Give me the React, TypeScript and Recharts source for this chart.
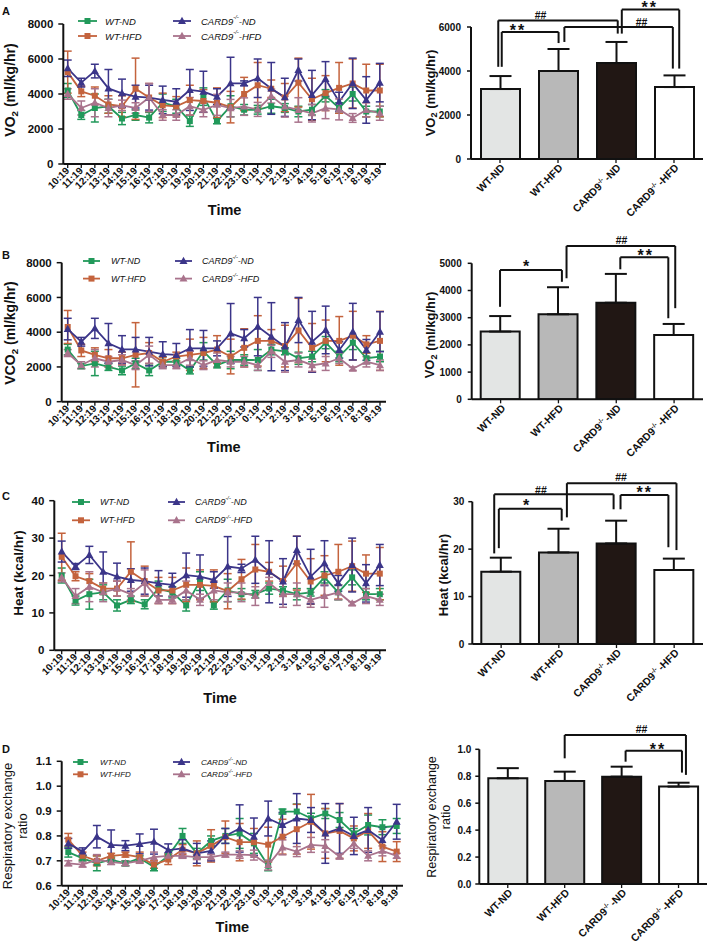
import React from 'react';
import {
  LineChart, Line, BarChart, Bar, Cell, XAxis, YAxis, ErrorBar, ReferenceLine, ReferenceDot,
} from 'recharts';

const FONT = '"Liberation Sans", Arial, sans-serif';
const INK = '#111';

const times = ['10:19', '11:19', '12:19', '13:19', '14:19', '15:19', '16:19', '17:19', '18:19', '19:19', '20:19', '21:19',
  '22:19', '23:19', '0:19', '1:19', '2:19', '3:19', '4:19', '5:19', '6:19', '7:19', '8:19', '9:19'];
const groupNames = ['WT-ND', 'WT-HFD', 'CARD9-/--ND', 'CARD9-/--HFD'];
const seriesColors = ['#21995a', '#c4633d', '#3b3589', '#a9738c'];
const barFills = ['#e3e5e4', '#b8b8b8', '#211714', '#ffffff'];

// ---- A: VO2 over time
const vo2WtNd = [4200, 2800, 3200, 3300, 2600, 2800, 2650, 3500, 3300, 2450, 3850, 2450, 3300, 3100, 3100, 3300, 3200, 3000, 3100, 3900, 3200, 4000, 3000, 3000];
const vo2WtNdErr = [400, 250, 800, 400, 350, 300, 300, 500, 400, 300, 500, 150, 600, 300, 250, 400, 250, 300, 300, 350, 300, 400, 300, 300];
const vo2WtHfd = [5250, 4150, 3900, 3400, 3300, 4300, 3800, 3350, 3300, 3650, 3600, 3500, 3250, 4000, 4500, 4300, 3800, 4650, 3700, 4050, 4350, 4600, 4200, 4200];
const vo2WtHfdErr = [1200, 300, 500, 500, 600, 1750, 800, 700, 550, 850, 650, 850, 900, 950, 1300, 500, 800, 1400, 1200, 1000, 1450, 1400, 1500, 1500];
const vo2KoNd = [5470, 4650, 5310, 4320, 4040, 3850, 3790, 3660, 3560, 4230, 4130, 3850, 4610, 4610, 4900, 4320, 3810, 5370, 3940, 4860, 3560, 4610, 3660, 4650];
const vo2KoNdErr = [470, 250, 390, 1080, 810, 650, 710, 790, 740, 1170, 1170, 450, 1490, 140, 1100, 1480, 1090, 630, 1410, 990, 540, 1440, 1330, 1100];
const vo2KoHfd = [4000, 3200, 3500, 3200, 3350, 3200, 3800, 2800, 2800, 3300, 3100, 3380, 3190, 3280, 3120, 3880, 3280, 3090, 2900, 3190, 3120, 2630, 3090, 2900];
const vo2KoHfdErr = [300, 400, 800, 500, 300, 300, 800, 300, 300, 500, 400, 600, 500, 500, 400, 400, 600, 700, 500, 600, 600, 250, 400, 400];

// ---- B: VCO2 over time
const vco2WtNd = [3000, 2050, 2200, 2000, 1800, 2200, 1800, 2300, 2300, 1800, 2900, 2100, 2400, 2400, 2400, 3000, 2900, 2500, 2600, 3400, 2600, 3400, 2500, 2600];
const vco2WtNdErr = [300, 150, 700, 200, 250, 300, 300, 300, 200, 200, 500, 150, 500, 300, 600, 300, 200, 350, 300, 350, 300, 400, 300, 300];
const vco2WtHfd = [4300, 2950, 2700, 2500, 2500, 2700, 2800, 2300, 2600, 2700, 2800, 3000, 2600, 3100, 3500, 3500, 3200, 4100, 3100, 3500, 3500, 3800, 3300, 3500];
const vco2WtHfdErr = [950, 350, 400, 500, 350, 1850, 600, 250, 250, 900, 900, 800, 1000, 1100, 1450, 650, 1200, 1850, 1400, 1200, 1400, 1400, 500, 1700];
const vco2KoNd = [4180, 3450, 4220, 3360, 3010, 3010, 2880, 2740, 2690, 3070, 3070, 3070, 3930, 3650, 4320, 3740, 3170, 4700, 3450, 4130, 2980, 4030, 2980, 4030];
const vco2KoNdErr = [620, 250, 580, 1140, 790, 690, 820, 710, 660, 1080, 1030, 430, 1720, 500, 1680, 1960, 1380, 1300, 1750, 1370, 470, 1630, 600, 1150];
const vco2KoHfd = [2800, 2100, 2500, 2300, 2400, 2100, 2700, 2100, 2100, 2500, 2100, 2400, 2300, 2300, 2100, 2900, 2300, 2400, 2100, 2200, 2500, 1900, 2300, 2100];
const vco2KoHfdErr = [200, 200, 500, 300, 300, 250, 500, 200, 200, 400, 250, 400, 300, 300, 300, 350, 600, 400, 350, 400, 300, 100, 300, 300];

// ---- C: heat over time
const heatWtNd = [20, 13.3, 15, 15.5, 12, 13.5, 12.3, 16.5, 15.5, 12, 18.5, 12, 16, 15, 15, 16.5, 16, 15, 15.5, 19.5, 15.5, 19.5, 15, 15];
const heatWtNdErr = [2, 1.2, 4, 2, 1.5, 1, 1.2, 2, 1.5, 1.5, 2.5, 1, 3, 1.5, 1, 1.5, 1, 1.5, 1, 1.5, 2, 2, 1.5, 1.5];
const heatWtHfd = [25, 19.8, 18.5, 16.5, 16.5, 21, 18.5, 16, 16, 17.5, 17.5, 17.2, 15.8, 19, 21.6, 21, 18.5, 23.3, 18.4, 20, 21, 22.5, 20.5, 20.5];
const heatWtHfdErr = [6.3, 1.2, 2, 1.5, 2, 8, 4, 3.5, 3.5, 4.5, 4, 4.3, 4.7, 5.3, 6.7, 2.5, 4, 7.2, 6.1, 5.3, 7.3, 6.7, 5, 7];
const heatKoNd = [26.4, 22.4, 25.5, 21, 19.7, 18.8, 18.5, 17.9, 17.5, 20.1, 19.7, 18.8, 22.4, 21.9, 24.2, 21, 18.4, 26.8, 19.7, 23.3, 17.9, 22.8, 17.9, 22.8];
const heatKoNdErr = [2.8, 0.8, 2.3, 5.3, 3.6, 3, 3.5, 3.4, 3.1, 5.9, 5.8, 2.2, 8, 1.1, 6.3, 8.3, 6.1, 3.7, 7.3, 6, 2.1, 7.2, 5, 5.5];
const heatKoHfd = [19.5, 14.5, 17, 15.5, 16.5, 15, 18, 13.5, 13.5, 16, 13.5, 16, 15.5, 15.5, 14.5, 18, 15, 15, 13.5, 14.5, 15.5, 12.5, 14.5, 13.5];
const heatKoHfdErr = [1.2, 2, 4, 2.5, 2, 1.5, 3.5, 1, 1, 2.5, 1.5, 2.5, 2.5, 2.5, 2.5, 1.5, 3.5, 3, 2, 3, 2, 0.5, 2, 1.5];

// ---- D: respiratory exchange ratio over time
const rerWtNd = [0.735, 0.71, 0.69, 0.705, 0.69, 0.71, 0.675, 0.72, 0.8, 0.73, 0.78, 0.8, 0.81, 0.77, 0.68, 0.898, 0.898, 0.871, 0.89, 0.864, 0.81, 0.844, 0.835, 0.84];
const rerWtNdErr = [0.02, 0.01, 0.03, 0.01, 0.01, 0.01, 0.015, 0.01, 0.03, 0.02, 0.02, 0.03, 0.06, 0.04, 0.02, 0.01, 0.03, 0.02, 0.02, 0.03, 0.02, 0.04, 0.03, 0.03];
const rerWtHfd = [0.785, 0.72, 0.7, 0.72, 0.725, 0.715, 0.685, 0.705, 0.745, 0.73, 0.76, 0.795, 0.775, 0.775, 0.765, 0.797, 0.827, 0.857, 0.81, 0.82, 0.79, 0.82, 0.757, 0.737];
const rerWtHfdErr = [0.025, 0.015, 0.02, 0.01, 0.01, 0.02, 0.015, 0.02, 0.02, 0.05, 0.065, 0.065, 0.075, 0.055, 0.07, 0.07, 0.1, 0.11, 0.1, 0.11, 0.05, 0.07, 0.06, 0.04];
const rerKoNd = [0.77, 0.737, 0.797, 0.764, 0.761, 0.768, 0.777, 0.743, 0.75, 0.73, 0.74, 0.8, 0.83, 0.797, 0.87, 0.844, 0.87, 0.864, 0.81, 0.83, 0.8, 0.824, 0.784, 0.857];
const rerKoNdErr = [0.02, 0.015, 0.045, 0.06, 0.02, 0.04, 0.05, 0.025, 0.035, 0.04, 0.04, 0.03, 0.095, 0.075, 0.07, 0.05, 0.1, 0.05, 0.12, 0.1, 0.075, 0.09, 0.05, 0.07];
const rerKoHfd = [0.69, 0.685, 0.705, 0.695, 0.69, 0.7, 0.715, 0.72, 0.72, 0.715, 0.715, 0.725, 0.725, 0.723, 0.683, 0.754, 0.737, 0.764, 0.76, 0.717, 0.77, 0.72, 0.74, 0.72];
const rerKoHfdErr = [0.01, 0.01, 0.02, 0.01, 0.01, 0.01, 0.02, 0.01, 0.01, 0.01, 0.01, 0.01, 0.015, 0.02, 0.02, 0.03, 0.02, 0.03, 0.025, 0.01, 0.02, 0.02, 0.02, 0.01];

// ---- group means (right column)
const vo2Mean = [3180, 4000, 4360, 3270];
const vo2Sd = [590, 1000, 960, 530];
const vco2Mean = [2490, 3125, 3550, 2365];
const vco2Sd = [570, 995, 1060, 405];
const heatMean = [15.25, 19.3, 21.2, 15.6];
const heatSd = [2.95, 5.0, 4.8, 2.4];
const rerMean = [0.785, 0.765, 0.797, 0.723];
const rerSd = [0.075, 0.069, 0.074, 0.029];

// significance brackets: a/b = group index of feet, y = bar height, ya/yb = feet ends, mark at (mx, my)
const vo2Marks = [
  { a: -0.03, b: 2.03, y: 6300, ya: 4190, yb: 5700, mark: '##', mx: 0.7, my: 6520 },
  { a: 0.03, b: 1.01, y: 5770, ya: 4190, yb: 5270, mark: '**', mx: 0.31, my: 5850 },
  { a: 1.11, b: 2.98, y: 6000, ya: 5320, yb: 4110, mark: '##', mx: 2.44, my: 6220 },
  { a: 2.1, b: 3.09, y: 6790, ya: 5700, yb: 4110, mark: '**', mx: 2.58, my: 6900 },
];
const vco2Marks = [
  { a: -0.01, b: 1.06, y: 4750, ya: 3400, yb: 4320, mark: '*', mx: 0.46, my: 4900 },
  { a: 1.14, b: 3.02, y: 5640, ya: 4450, yb: 3350, mark: '##', mx: 2.09, my: 5840 },
  { a: 2.07, b: 2.9, y: 5220, ya: 4780, yb: 2980, mark: '**', mx: 2.51, my: 5280 },
];
const heatMarks = [
  { a: -0.12, b: 1.95, y: 31.55, ya: 19.1, yb: 28.4, mark: '##', mx: 0.69, my: 32.5 },
  { a: -0.04, b: 1.05, y: 28.5, ya: 20.2, yb: 26.0, mark: '*', mx: 0.45, my: 29.3 },
  { a: 1.14, b: 3.04, y: 33.9, ya: 26.7, yb: 19.8, mark: '##', mx: 2.08, my: 35.2 },
  { a: 2.07, b: 2.9, y: 31.4, ya: 28.4, yb: 20.4, mark: '**', mx: 2.49, my: 31.9 },
];
const rerMarks = [
  { a: 1.0, b: 3.13, y: 1.106, ya: 0.933, yb: 0.81, mark: '##', mx: 2.35, my: 1.15 },
  { a: 2.07, b: 3.06, y: 0.99, ya: 0.908, yb: 0.827, mark: '**', mx: 2.64, my: 1.0 },
];

type Series = { name: string; color: string; shape: 'square' | 'triangle'; mean: number[]; err: number[] };

const seriesOf = (means: number[][], errs: number[][]): Series[] =>
  groupNames.map((name, k) => ({
    name, color: seriesColors[k], shape: k < 2 ? 'square' : 'triangle', mean: means[k], err: errs[k],
  }));

// text with "_2" subscript or "-/-" superscript
function Rich({ s, size, gap = 0 }: { s: string; size: number; gap?: number }) {
  if (s.includes('_2')) {
    const [a, b] = s.split('_2');
    return <>{a}<tspan dy={size * 0.3} fontSize={size * 0.7}>2</tspan><tspan dy={-size * 0.3}>{b}</tspan></>;
  }
  if (s.includes('-/-')) {
    const [a, b] = s.split('-/-');
    return <>{a}<tspan dy={-size * 0.4} fontSize={size * 0.62}>-/-</tspan><tspan dy={size * 0.4} dx={gap}>{b}</tspan></>;
  }
  return <>{s}</>;
}

function AxisTitle({ px, py, lines, size, weight }: any) {
  return (
    <g>
      {lines.map((l: any, i: number) => (
        <text key={i} x={px + l.dx} y={py} transform={`rotate(-90 ${px + l.dx} ${py})`} textAnchor="middle"
          dominantBaseline="central" fontSize={size} fontWeight={weight} fill={INK} fontFamily={FONT}>
          <Rich s={l.text} size={size} />
        </text>
      ))}
    </g>
  );
}

const TimeTick = (p: any) => {
  const { x, y, payload } = p;
  return (
    <text x={x} y={y} dy={3.3} transform={`rotate(-45 ${x} ${y})`} textAnchor="end" fontSize={10} fontWeight={700} fill={INK}>
      {payload.value}
    </text>
  );
};

const GroupTick = (p: any) => {
  const { x, y, payload } = p;
  return (
    <text x={x + 3} y={y} dy={3.5} transform={`rotate(-45 ${x + 3} ${y})`} textAnchor="end" fontSize={10.5} fontWeight={700} fill={INK}>
      <Rich s={payload.value} size={10.5} gap={2} />
    </text>
  );
};

const marker = (shape: string, color: string, cx: number, cy: number, key?: any) =>
  shape === 'square'
    ? <rect key={key} x={cx - 3} y={cy - 3} width={6} height={6} fill={color} />
    : <polygon key={key} points={`${cx},${cy - 4.2} ${cx - 4},${cy + 3} ${cx + 4},${cy + 3}`} fill={color} />;

function SeriesKey({ list, top, rowsY, cols, size }: any) {
  return (
    <svg width={420} height={60} style={{ position: 'absolute', left: 0, top: rowsY[0] - top - 10, overflow: 'visible' }}>
      {list.map((s: Series, k: number) => {
        const c = cols[k < 2 ? 0 : 1];
        const y = rowsY[k % 2] - rowsY[0] + 10;
        return (
          <g key={s.name}>
            <line x1={c.m1} x2={c.m2} y1={y} y2={y} stroke={s.color} strokeWidth={1.8} />
            {marker(s.shape, s.color, (c.m1 + c.m2) / 2, y)}
            <text x={c.tx} y={y} dominantBaseline="central" fontSize={size} fontStyle="italic" fill={INK}>
              <Rich s={s.name} size={size} />
            </text>
          </g>
        );
      })}
    </svg>
  );
}

function TimeCourse(c: any) {
  const w = c.plotRight + 6;
  const axisH = c.timeBase - c.plotBottom;
  const h = c.timeBase - c.top + 10;
  const data = times.map((t, i) => {
    const r: any = { t };
    c.series.forEach((s: Series, k: number) => { r['m' + k] = s.mean[i]; r['e' + k] = s.err[i]; });
    return r;
  });
  return (
    <div style={{ position: 'absolute', left: 0, top: c.top, width: w, height: h }}>
      <LineChart width={w} height={h} data={data} style={{ overflow: 'visible' }}
        margin={{ top: c.plotTop - c.top, right: w - c.plotRight, bottom: 10, left: 0 }}>
        <XAxis dataKey="t" interval={0} height={axisH} tick={TimeTick} tickSize={4} tickMargin={1}
          padding={{ left: c.firstX - c.axisX, right: c.plotRight - c.lastX }}
          tickLine={{ stroke: INK, strokeWidth: 1.3 }} axisLine={{ stroke: INK, strokeWidth: 2 }}
          label={{ value: 'Time', position: 'insideBottom', offset: 0, fontSize: 14.5, fontWeight: 700, fill: INK }} />
        <YAxis width={c.axisX} domain={c.domain} ticks={c.ticks} allowDataOverflow tickSize={5} tickMargin={5}
          tickFormatter={(v: number) => (c.digits ? v.toFixed(c.digits) : String(v))}
          tick={{ fontSize: 11.5, fontWeight: 700, fill: INK }}
          tickLine={{ stroke: INK, strokeWidth: 1.5 }} axisLine={{ stroke: INK, strokeWidth: 2 }}
          label={<AxisTitle px={c.labelX} py={c.labelY - c.top} lines={c.title} size={c.titleSize} weight={c.titleWeight} />} />
        {c.series.map((s: Series, k: number) => (
          <Line key={s.name} dataKey={'m' + k} stroke={s.color} strokeWidth={1.8} isAnimationActive={false} activeDot={false}
            dot={(p: any) => (p.cx == null ? <g key={p.index} /> : marker(s.shape, s.color, p.cx, p.cy, p.index))}>
            <ErrorBar dataKey={'e' + k} width={4} stroke={s.color} strokeWidth={1.5} direction="y" />
          </Line>
        ))}
      </LineChart>
      <SeriesKey list={c.series} top={c.top} rowsY={c.keyRows} cols={c.keyCols} size={c.keySize} />
    </div>
  );
}

function GroupBars(c: any) {
  const w = 709 - c.left;
  const h = c.plotBottom - c.top + 70;
  const half = (c.plotRight - c.axisX) / groupNames.length / 2;
  const data = groupNames.map((g, i) => ({ g, i, v: c.means[i], e: [0, c.sds[i]] }));
  const ref = { xAxisId: 'n', ifOverflow: 'visible' as const, stroke: INK, strokeWidth: 2 };
  return (
    <div style={{ position: 'absolute', left: c.left, top: c.top, width: w, height: h }}>
      <BarChart width={w} height={h} data={data} style={{ overflow: 'visible' }}
        margin={{ top: c.plotTop - c.top, right: 709 - c.plotRight, bottom: 4, left: 0 }}>
        <XAxis dataKey="g" interval={0} height={66} tick={GroupTick} tickSize={4} tickMargin={3}
          tickLine={{ stroke: INK, strokeWidth: 1.3 }} axisLine={{ stroke: INK, strokeWidth: 2 }} />
        {/* numeric twin of the category axis: group index i sits on its bar centre */}
        <XAxis xAxisId="n" dataKey="i" type="number" domain={[0, 3]} padding={{ left: half, right: half }} hide allowDataOverflow />
        <YAxis width={c.axisX - c.left} domain={c.domain} ticks={c.ticks} allowDataOverflow tickSize={4} tickMargin={c.tickGap}
          tickFormatter={(v: number) => (c.digits ? v.toFixed(c.digits) : String(v))}
          tick={{ fontSize: 10, fontWeight: 700, fill: INK }}
          tickLine={{ stroke: INK, strokeWidth: 1.5 }} axisLine={{ stroke: INK, strokeWidth: 2 }}
          label={<AxisTitle px={c.labelX - c.left} py={c.labelY - c.top} lines={c.title} size={c.titleSize} weight={c.titleWeight} />} />
        <Bar dataKey="v" barSize={39} stroke={INK} strokeWidth={2} isAnimationActive={false}>
          {data.map((d, i) => <Cell key={d.g} fill={barFills[i]} />)}
          <ErrorBar dataKey="e" width={11} stroke={INK} strokeWidth={2} direction="y" />
        </Bar>
        {c.marks.flatMap((m: any, i: number) => [
          <ReferenceLine key={'h' + i} {...ref} segment={[{ x: m.a, y: m.y }, { x: m.b, y: m.y }]} />,
          <ReferenceLine key={'l' + i} {...ref} segment={[{ x: m.a, y: m.y }, { x: m.a, y: m.ya }]} />,
          <ReferenceLine key={'r' + i} {...ref} segment={[{ x: m.b, y: m.y }, { x: m.b, y: m.yb }]} />,
          <ReferenceDot key={'t' + i} xAxisId="n" x={m.mx} y={m.my} r={0} ifOverflow="visible" fill="none" stroke="none"
            label={{ value: m.mark, position: 'center', fill: INK, fontWeight: 700,
              fontSize: m.mark.includes('*') ? 16 : 10.5, letterSpacing: m.mark.includes('*') ? 2 : 0 }} />,
        ])}
      </BarChart>
    </div>
  );
}

const vo2Series = seriesOf([vo2WtNd, vo2WtHfd, vo2KoNd, vo2KoHfd], [vo2WtNdErr, vo2WtHfdErr, vo2KoNdErr, vo2KoHfdErr]);
const vco2Series = seriesOf([vco2WtNd, vco2WtHfd, vco2KoNd, vco2KoHfd], [vco2WtNdErr, vco2WtHfdErr, vco2KoNdErr, vco2KoHfdErr]);
const heatSeries = seriesOf([heatWtNd, heatWtHfd, heatKoNd, heatKoHfd], [heatWtNdErr, heatWtHfdErr, heatKoNdErr, heatKoHfdErr]);
const rerSeries = seriesOf([rerWtNd, rerWtHfd, rerKoNd, rerKoHfd], [rerWtNdErr, rerWtHfdErr, rerKoNdErr, rerKoHfdErr]);

export default function App() {
  return (
    <div style={{ position: 'relative', width: 709, height: 945, background: '#fff', fontFamily: FONT, overflow: 'hidden' }}>
      <style>{'body{margin:0}'}</style>
      <svg width={709} height={945} style={{ position: 'absolute', left: 0, top: 0 }}>
        {[['A', 15], ['B', 259], ['C', 500], ['D', 753]].map(([t, y]) => (
          <text key={t as string} x={2} y={y as number} fontSize={11} fontWeight={700} fill={INK} fontFamily={FONT}>{t}</text>
        ))}
      </svg>

      <TimeCourse series={vo2Series} top={0} axisX={63.3} plotTop={24} plotBottom={164} firstX={67.7} lastX={379.8}
        plotRight={386} timeBase={215} domain={[0, 8000]} ticks={[0, 2000, 4000, 6000, 8000]}
        labelX={10} labelY={90} title={[{ text: 'VO_2 (ml/kg/hr)', dx: 0 }]} titleSize={14} titleWeight={700}
        keyRows={[21, 36]} keyCols={[{ m1: 78, m2: 97, tx: 105 }, { m1: 173, m2: 191, tx: 201 }]} keySize={9.5} />
      <TimeCourse series={vco2Series} top={230} axisX={61.7} plotTop={262.7} plotBottom={401.7} firstX={67.7} lastX={380}
        plotRight={386} timeBase={451.7} domain={[0, 8000]} ticks={[0, 2000, 4000, 6000, 8000]}
        labelX={10} labelY={333} title={[{ text: 'VCO_2 (ml/kg/hr)', dx: 0 }]} titleSize={14} titleWeight={700}
        keyRows={[260.7, 278.3]} keyCols={[{ m1: 83, m2: 100, tx: 111 }, { m1: 175, m2: 192, tx: 202 }]} keySize={9} />
      <TimeCourse series={heatSeries} top={470} axisX={54.3} plotTop={500.7} plotBottom={650.3} firstX={61.7} lastX={379.8}
        plotRight={386} timeBase={703} domain={[0, 40]} ticks={[0, 10, 20, 30, 40]}
        labelX={18} labelY={573} title={[{ text: 'Heat (kcal/hr)', dx: 0 }]} titleSize={13.5} titleWeight={700}
        keyRows={[501.7, 520]} keyCols={[{ m1: 72, m2: 90, tx: 100 }, { m1: 168, m2: 185, tx: 195 }]} keySize={9} />
      <TimeCourse series={rerSeries} top={700} axisX={61.7} plotTop={761.3} plotBottom={885.7} firstX={68.3} lastX={396.7}
        plotRight={403} timeBase={931.7} domain={[0.6, 1.1]} ticks={[0.6, 0.7, 0.8, 0.9, 1.0, 1.1]} digits={1}
        labelX={14} labelY={826} title={[{ text: 'Respiratory exchange', dx: -7 }, { text: 'ratio', dx: 8 }]}
        titleSize={13} titleWeight={400}
        keyRows={[761.7, 774]} keyCols={[{ m1: 73, m2: 88, tx: 100 }, { m1: 173, m2: 190, tx: 201 }]} keySize={8} />

      <GroupBars left={415} top={0} axisX={471} plotTop={27} plotBottom={159} plotRight={703} tickGap={6}
        domain={[0, 6000]} ticks={[0, 2000, 4000, 6000]} means={vo2Mean} sds={vo2Sd} marks={vo2Marks}
        labelX={430} labelY={93} title={[{ text: 'VO_2 (ml/kg/hr)', dx: 0 }]} titleSize={13} titleWeight={700} />
      <GroupBars left={415} top={230} axisX={471.7} plotTop={263.3} plotBottom={399.3} plotRight={703} tickGap={6}
        domain={[0, 5000]} ticks={[0, 1000, 2000, 3000, 4000, 5000]} means={vco2Mean} sds={vco2Sd} marks={vco2Marks}
        labelX={430} labelY={335} title={[{ text: 'VO_2 (ml/kg/hr)', dx: 0 }]} titleSize={13} titleWeight={700} />
      <GroupBars left={415} top={470} axisX={472.3} plotTop={501.7} plotBottom={644} plotRight={703} tickGap={4}
        domain={[0, 30]} ticks={[0, 10, 20, 30]} means={heatMean} sds={heatSd} marks={heatMarks}
        labelX={443} labelY={575} title={[{ text: 'Heat (kcal/hr)', dx: 0 }]} titleSize={13} titleWeight={700} />
      <GroupBars left={415} top={700} axisX={479.3} plotTop={749.3} plotBottom={884} plotRight={707} tickGap={4}
        domain={[0, 1]} ticks={[0, 0.2, 0.4, 0.6, 0.8, 1.0]} digits={1} means={rerMean} sds={rerSd} marks={rerMarks}
        labelX={439} labelY={817} title={[{ text: 'Respiratory exchange', dx: -7 }, { text: 'ratio', dx: 7 }]}
        titleSize={12.5} titleWeight={400} />
    </div>
  );
}
